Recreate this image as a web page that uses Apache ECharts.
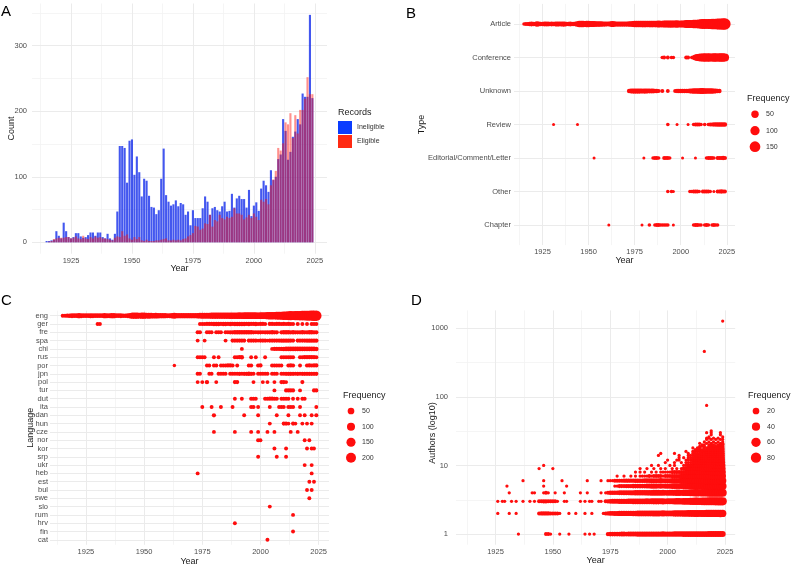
<!DOCTYPE html>
<html>
<head>
<meta charset="utf-8">
<script src="https://cdn.jsdelivr.net/npm/echarts@6.0.0/dist/echarts.min.js"></script>
<style>
html, body { margin: 0; padding: 0; background: #fff; }
#chart { width: 794px; height: 567px; }
</style>
</head>
<body>
<div id="chart"></div>
<script>
// ---- shared ticks ----
var firstYear = 1915;
var yearTicks = [1925, 1950, 1975, 2000, 2025];
var yearMinor = [1912.5, 1937.5, 1962.5, 1987.5, 2012.5];

// ---- A: records per year ----
var countTicks = [0, 100, 200, 300];
var countMinor = [50, 150, 250, 350];
var ineligible = [2, 2, 3, 4, 17, 10, 6, 30, 17, 8,
  6, 8, 14, 14, 9, 7, 8, 11, 15, 15,
  10, 15, 15, 8, 6, 13, 6, 4, 13, 47,
  147, 147, 144, 91, 155, 157, 103, 131, 107, 70,
  97, 94, 71, 54, 53, 43, 49, 97, 143, 72,
  62, 56, 58, 64, 55, 60, 58, 42, 47, 26,
  49, 37, 37, 37, 52, 70, 62, 42, 52, 54,
  49, 47, 55, 62, 47, 48, 74, 53, 67, 71,
  66, 66, 53, 80, 40, 56, 61, 48, 82, 94,
  87, 77, 110, 95, 100, 127, 134, 188, 170, 126,
  138, 161, 169, 188, 180, 227, 222, 222, 347, 220];
var eligible = [0, 1, 2, 5, 6, 7, 7, 7, 8, 8,
  6, 7, 9, 6, 5, 10, 6, 5, 8, 6,
  9, 7, 8, 6, 6, 5, 4, 3, 7, 9,
  8, 17, 10, 12, 6, 4, 8, 5, 8, 3,
  2, 4, 2, 2, 2, 3, 3, 4, 5, 6,
  3, 3, 4, 3, 4, 3, 5, 6, 9, 11,
  14, 25, 24, 19, 21, 29, 28, 42, 24, 34,
  32, 42, 37, 35, 39, 37, 39, 52, 44, 44,
  42, 35, 38, 42, 37, 44, 39, 34, 65, 62,
  66, 58, 87, 96, 109, 144, 140, 151, 183, 180,
  197, 159, 194, 166, 202, 202, 219, 252, 226, 226];

// ---- B: publication type ----
var typeNames = ['Article', 'Conference', 'Unknown', 'Review', 'Editorial/Comment/Letter', 'Other', 'Chapter'];
var articleFreq = [2, 3, 4, 6, 10, 8, 7, 15, 10, 8,
  8, 9, 11, 10, 8, 9, 8, 9, 12, 11,
  10, 12, 12, 8, 7, 10, 6, 5, 9, 18,
  30, 32, 30, 22, 30, 32, 24, 26, 24, 16,
  20, 18, 15, 12, 12, 10, 11, 18, 26, 15,
  13, 12, 12, 13, 12, 13, 12, 14, 18, 22,
  30, 28, 28, 28, 32, 36, 34, 32, 32, 35,
  34, 34, 36, 38, 36, 36, 42, 40, 44, 46,
  46, 44, 40, 48, 36, 44, 44, 40, 58, 62,
  62, 56, 78, 76, 82, 96, 100, 120, 124, 110,
  126, 128, 134, 146, 148, 160, 162, 170, 182, 176];
var conferencePts = [[1990, 2], [1991, 3], [1993, 3], [1995, 2], [1996, 2], [2003, 4], [2004, 3], [2006, 2], [2007, 6],
  [2008, 22], [2009, 40], [2010, 50], [2011, 58], [2012, 66], [2013, 72], [2014, 68], [2015, 72], [2016, 70],
  [2017, 68], [2018, 72], [2019, 74], [2020, 70], [2021, 72], [2022, 74], [2023, 76], [2024, 70]];
var unknownPts = [[1972, 6], [1973, 10], [1974, 12], [1975, 12], [1976, 12], [1977, 12], [1978, 12], [1979, 11],
  [1980, 12], [1981, 12], [1982, 10], [1983, 11], [1984, 10], [1985, 10], [1986, 8], [1987, 6], [1988, 4],
  [1990, 4], [1993, 3], [1997, 4], [1998, 5], [1999, 6], [2000, 6], [2001, 5], [2002, 6], [2003, 5], [2004, 8],
  [2005, 10], [2006, 12], [2007, 14], [2008, 16], [2009, 18], [2010, 20], [2011, 22], [2012, 22], [2013, 20],
  [2014, 18], [2015, 18], [2016, 16], [2017, 14], [2018, 12], [2019, 10], [2020, 8], [2021, 6]];
var reviewPts = [[1931, 1], [1944, 1], [1993, 2], [1998, 1], [2004, 1], [2007, 2], [2008, 3], [2009, 3], [2010, 3],
  [2011, 2], [2013, 2], [2015, 2], [2016, 3], [2017, 4], [2018, 5], [2019, 5], [2020, 7], [2021, 8], [2022, 8],
  [2023, 7], [2024, 6]];
var editorialPts = [[1953, 1], [1980, 1], [1985, 2], [1986, 3], [1987, 3], [1988, 2], [1991, 3], [1992, 4],
  [1993, 3], [1994, 2], [2001, 1], [2008, 1], [2014, 2], [2015, 3], [2016, 3], [2017, 3], [2018, 2], [2020, 3],
  [2021, 4], [2022, 4], [2023, 5], [2024, 4]];
var otherPts = [[1993, 2], [1995, 2], [1996, 1], [2005, 2], [2006, 2], [2007, 3], [2008, 3], [2009, 4], [2010, 2],
  [2012, 3], [2013, 4], [2014, 3], [2015, 3], [2016, 2], [2018, 1], [2020, 3], [2021, 4], [2022, 5], [2023, 4],
  [2024, 3]];
var chapterPts = [[1961, 1], [1979, 1], [1983, 2], [1986, 2], [1987, 3], [1988, 3], [1989, 2], [1990, 2], [1991, 2],
  [1992, 2], [1993, 2], [1996, 1], [2007, 2], [2008, 3], [2009, 3], [2010, 2], [2011, 2], [2013, 2], [2014, 3],
  [2015, 2], [2017, 2], [2018, 3], [2019, 2], [2020, 2]];

// ---- C: language ----
var langNames = ['eng', 'ger', 'fre', 'spa', 'chi', 'rus', 'por', 'jpn', 'pol', 'tur', 'dut', 'ita', 'dan', 'hun',
  'cze', 'nor', 'kor', 'srp', 'ukr', 'heb', 'est', 'bul', 'swe', 'slo', 'rum', 'hrv', 'fin', 'cat'];
var engFreq = [2, 3, 5, 7, 12, 9, 8, 18, 12, 9,
  9, 10, 13, 12, 9, 10, 9, 10, 14, 13,
  12, 14, 14, 9, 8, 12, 7, 6, 11, 22,
  36, 38, 36, 26, 36, 38, 28, 31, 28, 19,
  24, 22, 18, 14, 14, 12, 13, 22, 30, 18,
  15, 14, 14, 15, 14, 15, 14, 16, 22, 26,
  34, 32, 32, 32, 36, 40, 38, 36, 36, 40,
  40, 40, 42, 44, 42, 42, 48, 46, 52, 54,
  54, 52, 48, 56, 44, 52, 52, 48, 68, 74,
  74, 68, 92, 92, 98, 116, 122, 146, 152, 136,
  154, 158, 166, 180, 184, 198, 202, 214, 232, 228];
var gerPts = [[1930, 2], [1931, 2], [1974, 2], [1975, 3], [1976, 3], [1977, 4], [1978, 4], [1979, 4], [1980, 5],
  [1981, 5], [1982, 5], [1983, 4], [1984, 5], [1985, 5], [1986, 4], [1987, 5], [1988, 4], [1989, 5], [1990, 5],
  [1991, 6], [1992, 5], [1993, 5], [1994, 4], [1995, 5], [1996, 4], [1997, 4], [1998, 5], [1999, 3], [2000, 4],
  [2001, 4], [2002, 3], [2004, 4], [2005, 4], [2006, 3], [2007, 4], [2008, 4], [2009, 3], [2010, 4], [2011, 3],
  [2012, 4], [2013, 3], [2014, 3], [2016, 3], [2018, 2], [2020, 2], [2022, 3], [2023, 3], [2024, 3]];
var frePts = [[1973, 3], [1974, 3], [1977, 3], [1978, 3], [1979, 2], [1981, 3], [1982, 2], [1983, 3], [1985, 3],
  [1986, 3], [1987, 4], [1988, 4], [1989, 5], [1990, 5], [1991, 6], [1992, 6], [1993, 5], [1994, 5], [1995, 6],
  [1996, 5], [1997, 4], [1998, 3], [1999, 4], [2000, 4], [2001, 3], [2002, 4], [2003, 4], [2004, 4], [2005, 5],
  [2006, 4], [2007, 4], [2009, 4], [2010, 5], [2011, 5], [2012, 5], [2013, 4], [2014, 5], [2015, 4], [2016, 4],
  [2017, 4], [2018, 5], [2019, 4], [2020, 4], [2021, 5], [2022, 5], [2023, 4], [2024, 4]];
var spaPts = [[1973, 2], [1976, 2], [1985, 2], [1988, 3], [1989, 3], [1990, 3], [1991, 4], [1992, 4], [1993, 3],
  [1995, 3], [1996, 3], [1997, 3], [1998, 3], [1999, 2], [2000, 3], [2001, 3], [2002, 3], [2003, 2], [2004, 3],
  [2005, 4], [2006, 4], [2007, 4], [2008, 4], [2009, 5], [2010, 5], [2011, 5], [2012, 5], [2013, 4], [2014, 4],
  [2016, 4], [2017, 4], [2018, 4], [2019, 4], [2020, 5], [2021, 5], [2022, 5], [2023, 5], [2024, 5]];
var chiPts = [[1992, 2], [2005, 2], [2006, 3], [2007, 4], [2008, 4], [2009, 5], [2010, 6], [2011, 7], [2012, 8],
  [2013, 9], [2014, 10], [2015, 10], [2016, 11], [2017, 10], [2018, 8], [2019, 7], [2020, 7], [2021, 8],
  [2022, 8], [2023, 7], [2024, 6]];
var rusPts = [[1973, 2], [1974, 3], [1975, 3], [1976, 2], [1980, 2], [1982, 2], [1989, 3], [1990, 3], [1991, 4],
  [1992, 5], [1996, 2], [1998, 2], [2002, 2], [2009, 2], [2010, 3], [2011, 3], [2012, 3], [2013, 3], [2014, 3],
  [2017, 3], [2018, 3], [2019, 4], [2020, 4], [2021, 4], [2022, 4], [2023, 4], [2024, 3]];
var porPts = [[1963, 1], [1977, 2], [1978, 2], [1980, 2], [1981, 3], [1983, 2], [1984, 3], [1985, 3], [1986, 4],
  [1987, 4], [1988, 3], [1990, 2], [1995, 3], [1996, 3], [1999, 3], [2000, 4], [2005, 3], [2006, 3], [2007, 3],
  [2008, 2], [2009, 2], [2012, 3], [2013, 4], [2014, 3], [2017, 2], [2020, 3], [2021, 4], [2022, 3], [2023, 4],
  [2024, 4]];
var jpnPts = [[1973, 3], [1974, 2], [1978, 2], [1979, 2], [1982, 3], [1983, 3], [1984, 3], [1985, 2], [1987, 3],
  [1988, 3], [1989, 3], [1990, 3], [1991, 4], [1992, 3], [1993, 4], [1994, 4], [1995, 5], [1996, 4], [1997, 3],
  [1999, 3], [2000, 3], [2001, 3], [2002, 3], [2003, 3], [2005, 3], [2006, 3], [2007, 3], [2009, 3], [2010, 3],
  [2011, 4], [2012, 4], [2013, 4], [2014, 4], [2015, 3], [2016, 4], [2017, 3], [2018, 4], [2019, 4], [2020, 4],
  [2021, 4], [2022, 4], [2023, 4], [2024, 4]];
var polPts = [[1973, 2], [1975, 2], [1977, 5], [1981, 2], [1989, 3], [1990, 3], [1997, 2], [2001, 2], [2003, 2],
  [2006, 2], [2009, 3], [2010, 3], [2011, 2], [2018, 3]];
var turPts = [[2006, 2], [2011, 3], [2012, 4], [2013, 4], [2014, 3], [2017, 2], [2023, 3], [2024, 3]];
var dutPts = [[1989, 2], [1992, 2], [1996, 3], [1997, 3], [1998, 2], [2002, 3], [2003, 3], [2004, 4], [2005, 4],
  [2006, 3], [2007, 3], [2009, 2], [2010, 3], [2011, 3], [2012, 2], [2014, 2], [2016, 2], [2018, 2], [2019, 2]];
var itaPts = [[1975, 2], [1979, 2], [1983, 2], [1988, 2], [1996, 3], [1997, 3], [1999, 2], [2004, 2], [2008, 2],
  [2009, 3], [2010, 2], [2012, 3], [2013, 3], [2014, 3], [2017, 2], [2024, 2]];
var danPts = [[1980, 4], [1993, 2], [1999, 2], [2007, 2], [2012, 2], [2017, 2], [2019, 2], [2022, 2], [2024, 3]];
var hunPts = [[2004, 2], [2010, 3], [2011, 3], [2012, 2], [2014, 3], [2015, 2], [2018, 2], [2020, 2], [2022, 2]];
var czePts = [[1980, 2], [1989, 2], [1996, 2], [1999, 2], [2003, 2], [2006, 2], [2013, 2], [2016, 2]];
var norPts = [[1999, 3], [2000, 2], [2019, 2], [2021, 2]];
var korPts = [[2006, 2], [2011, 2], [2020, 2], [2022, 2], [2023, 2]];
var srpPts = [[1999, 2], [2007, 2], [2011, 2]];
var ukrPts = [[2019, 2], [2022, 2]];
var hebPts = [[1973, 2], [2022, 2]];
var estPts = [[2021, 2], [2023, 2]];
var bulPts = [[2020, 2], [2022, 2]];
var swePts = [[2021, 2]];
var sloPts = [[2004, 2]];
var rumPts = [[2014, 2]];
var hrvPts = [[1989, 2]];
var finPts = [[2014, 2]];
var catPts = [[2003, 2]];

// ---- D: authors per record (year, authors, frequency) ----
var authorTicks = [1, 10, 100, 1000];
var authorMinor = [3.162, 31.62, 316.2];
var authors1Early = [[1935, 1], [1947, 2], [1948, 2], [1949, 1], [1953, 1], [1957, 1], [1964, 1], [1966, 1], [1968, 1]];
var authors1From = 1974;
var authors1Freq = [3, 4, 4, 5, 5, 5, 6, 6, 5, 6, 6, 6, 6, 7, 7, 7, 7, 8, 7, 8, 8, 8, 8, 7, 9, 7, 8, 8, 8, 9,
  9, 9, 9, 10, 10, 10, 11, 11, 12, 12, 11, 12, 12, 12, 13, 13, 13, 13, 14, 14, 13];
var authors2Early = [[1926, 1], [1931, 1], [1934, 1], [1944, 2], [1945, 3], [1946, 3], [1947, 3], [1948, 3],
  [1949, 2], [1950, 2], [1951, 2], [1952, 2], [1953, 1], [1957, 1], [1960, 1], [1964, 1], [1967, 1]];
var authors2From = 1972;
var authors2Freq = [1, 2, 3, 5, 5, 6, 6, 7, 8, 8, 7, 8, 8, 9, 9, 10, 10, 10, 10, 12, 11, 12, 13, 13, 13, 12, 14,
  11, 12, 12, 12, 15, 16, 16, 15, 18, 18, 19, 21, 22, 24, 24, 22, 24, 24, 25, 26, 26, 27, 27, 28, 30, 28];
var authors3Early = [[1926, 1], [1928, 1], [1929, 1], [1932, 1], [1934, 1], [1937, 1], [1940, 1], [1942, 1],
  [1944, 2], [1945, 2], [1946, 3], [1947, 3], [1948, 2], [1949, 2], [1950, 2], [1951, 2], [1952, 1], [1955, 1],
  [1956, 1], [1962, 1], [1964, 1], [1966, 1], [1967, 1], [1970, 1], [1971, 1]];
var authors3From = 1973;
var authors3Freq = [2, 3, 5, 6, 6, 6, 7, 8, 8, 8, 9, 9, 10, 10, 11, 11, 11, 11, 13, 12, 13, 14, 14, 14, 13, 15,
  12, 13, 13, 13, 17, 18, 18, 17, 20, 21, 22, 25, 27, 30, 30, 28, 32, 33, 34, 36, 37, 38, 39, 40, 42, 40];
var authors4Early = [[1931, 1], [1941, 1], [1942, 1], [1946, 1], [1947, 2], [1948, 1], [1951, 1], [1955, 1],
  [1962, 1], [1965, 1], [1971, 1]];
var authors4From = 1973;
var authors4Freq = [1, 2, 3, 4, 4, 4, 5, 5, 6, 6, 6, 7, 7, 8, 8, 9, 9, 9, 10, 10, 11, 12, 12, 12, 11, 13, 10,
  11, 12, 12, 15, 16, 16, 15, 18, 19, 20, 23, 25, 28, 28, 26, 30, 31, 32, 34, 35, 36, 37, 38, 40, 38];
var authors5Early = [[1930, 1], [1946, 1], [1956, 1]];
var authors5From = 1977;
var authors5Freq = [1, 1, 2, 2, 2, 3, 3, 3, 4, 4, 4, 5, 5, 5, 6, 6, 7, 7, 7, 6, 8, 6, 7, 8, 8, 10, 11, 11, 10,
  13, 14, 15, 18, 20, 22, 22, 21, 24, 25, 26, 28, 29, 30, 31, 32, 34, 35, 33];
var authors6Early = [[1937, 1], [1946, 1], [1954, 1], [1965, 1], [1971, 1]];
var authors6From = 1974;
var authors6Freq = [1, 1, 1, 2, 2, 2, 2, 3, 3, 3, 3, 3, 4, 4, 4, 4, 5, 5, 5, 6, 6, 6, 5, 7, 5, 6, 6, 6, 8, 9,
  9, 8, 11, 12, 13, 15, 17, 19, 19, 18, 21, 22, 23, 24, 25, 26, 27, 28, 29, 30, 28];
var authors7Early = [[1978, 1], [1981, 1], [1984, 1], [1986, 1]];
var authors7From = 1988;
var authors7Freq = [1, 1, 1, 1, 2, 1, 2, 2, 2, 2, 1, 2, 2, 2, 3, 3, 3, 3, 4, 5, 6, 7, 8, 10, 11, 12, 12, 13, 14,
  15, 16, 17, 18, 19, 20, 20, 19];
var authors8Early = [[1986, 1], [1988, 1], [1990, 1], [1993, 1], [1995, 1]];
var authors8From = 1997;
var authors8Freq = [1, 1, 1, 1, 1, 2, 2, 2, 2, 3, 3, 4, 5, 6, 7, 8, 9, 10, 11, 12, 13, 13, 14, 15, 16, 16, 17, 16];
var authors9Early = [[1944, 1], [1950, 1], [1988, 1], [1991, 1], [1994, 1], [1997, 1], [1999, 1], [2002, 1], [2004, 1]];
var authors9From = 2006;
var authors9Freq = [1, 2, 2, 2, 3, 4, 5, 5, 6, 7, 8, 9, 10, 10, 11, 12, 13, 12, 12];
var authors10Early = [[1946, 1], [1993, 1], [1996, 1], [2001, 1], [2003, 1]];
var authors10From = 2007;
var authors10Freq = [1, 1, 2, 2, 3, 3, 4, 4, 5, 6, 7, 7, 8, 9, 9, 10, 10, 9];
var authors11Early = [[1999, 1], [2003, 1], [2006, 1]];
var authors11From = 2008;
var authors11Freq = [1, 1, 1, 2, 2, 2, 3, 3, 4, 4, 5, 5, 6, 6, 7, 7, 6];
var authors12Early = [[2000, 1], [2004, 1], [2005, 1]];
var authors12From = 2008;
var authors12Freq = [1, 1, 1, 2, 2, 2, 3, 3, 3, 4, 4, 5, 5, 6, 6, 6, 5];
var authors13Early = [[2005, 1], [2007, 1]];
var authors13From = 2009;
var authors13Freq = [1, 1, 1, 2, 2, 2, 3, 3, 3, 3, 4, 4, 4, 5, 5, 4];
var authors14Early = [[1996, 1], [2005, 1]];
var authors14From = 2009;
var authors14Freq = [1, 1, 1, 1, 2, 2, 2, 2, 3, 3, 3, 3, 4, 4, 4, 3];
var authors15Early = [[1997, 1], [2003, 1], [2009, 1]];
var authors15From = 2011;
var authors15Freq = [1, 1, 1, 1, 2, 2, 2, 2, 2, 3, 3, 3, 3, 3];
var authors16Early = [[2008, 1]];
var authors16From = 2011;
var authors16Freq = [1, 1, 1, 1, 1, 2, 2, 2, 2, 2, 2, 2, 3, 2];
var authors17Early = [];
var authors17From = 2012;
var authors17Freq = [1, 1, 1, 1, 1, 1, 2, 2, 2, 2, 2, 2, 2];
var authorsSparse = [
  [2011, 18, 1], [2013, 18, 1], [2014, 18, 1], [2016, 18, 1], [2017, 18, 1], [2018, 18, 1], [2019, 18, 2],
  [2020, 18, 1], [2021, 18, 2], [2022, 18, 2], [2023, 18, 2], [2024, 18, 2],
  [2014, 19, 1], [2015, 19, 1], [2016, 19, 1], [2018, 19, 1], [2019, 19, 1], [2020, 19, 1], [2021, 19, 1],
  [2022, 19, 1], [2023, 19, 2], [2024, 19, 1],
  [2015, 20, 1], [2016, 20, 1], [2018, 20, 1], [2019, 20, 1], [2020, 20, 1], [2022, 20, 1], [2023, 20, 1], [2024, 20, 2],
  [2014, 21, 1], [2017, 21, 1], [2019, 21, 1], [2021, 21, 1], [2023, 21, 1], [2024, 21, 1],
  [2016, 22, 1], [2018, 22, 1], [2020, 22, 1], [2022, 22, 1], [2024, 22, 1],
  [2017, 24, 1], [2019, 24, 1], [2021, 24, 1], [2023, 24, 1], [2024, 24, 1],
  [2017, 25, 1], [2018, 25, 1], [2020, 25, 1], [2022, 25, 1],
  [2018, 26, 1], [2024, 26, 1], [2019, 28, 1], [2023, 28, 1],
  [2017, 30, 1], [2019, 30, 1], [2023, 30, 1], [2019, 32, 1],
  [2017, 75, 1], [2016, 460, 1], [2024, 1270, 1]];

var legendFreqB = [50, 100, 150];
var legendFreqC = [50, 100, 150, 200];
var legendFreqD = [20, 40, 60, 80];

// ---- build series data ----
var barIneligible = ineligible.map(function (v, i) { return [firstYear + i, v]; });
var barEligible = eligible.map(function (v, i) { return [firstYear + i, v]; });

var typeData = articleFreq.map(function (f, i) { return [firstYear + i, 0, f]; });
[conferencePts, unknownPts, reviewPts, editorialPts, otherPts, chapterPts].forEach(function (pts, k) {
  pts.forEach(function (p) { typeData.push([p[0], k + 1, p[1]]); });
});

var langData = engFreq.map(function (f, i) { return [firstYear + i, 0, f]; });
[gerPts, frePts, spaPts, chiPts, rusPts, porPts, jpnPts, polPts, turPts, dutPts, itaPts, danPts, hunPts, czePts,
  norPts, korPts, srpPts, ukrPts, hebPts, estPts, bulPts, swePts, sloPts, rumPts, hrvPts, finPts, catPts
].forEach(function (pts, k) {
  pts.forEach(function (p) { langData.push([p[0], k + 1, p[1]]); });
});

var authorRows = [
  [1, authors1Early, authors1From, authors1Freq], [2, authors2Early, authors2From, authors2Freq],
  [3, authors3Early, authors3From, authors3Freq], [4, authors4Early, authors4From, authors4Freq],
  [5, authors5Early, authors5From, authors5Freq], [6, authors6Early, authors6From, authors6Freq],
  [7, authors7Early, authors7From, authors7Freq], [8, authors8Early, authors8From, authors8Freq],
  [9, authors9Early, authors9From, authors9Freq], [10, authors10Early, authors10From, authors10Freq],
  [11, authors11Early, authors11From, authors11Freq], [12, authors12Early, authors12From, authors12Freq],
  [13, authors13Early, authors13From, authors13Freq], [14, authors14Early, authors14From, authors14Freq],
  [15, authors15Early, authors15From, authors15Freq], [16, authors16Early, authors16From, authors16Freq],
  [17, authors17Early, authors17From, authors17Freq]];
var authorData = [];
authorRows.forEach(function (row) {
  row[1].forEach(function (p) { authorData.push([p[0], row[0], p[1]]); });
  row[3].forEach(function (f, i) { authorData.push([row[2] + i, row[0], f]); });
});
authorsSparse.forEach(function (p) { authorData.push(p); });

// ---- styling helpers ----
var FONT = '"Liberation Sans", Arial, Helvetica, sans-serif';
var RED = '#ff0d0d';

function sizeB(v) { return 3 + 8.5 * Math.sqrt(Math.max(v - 1, 0) / 182); }
function sizeC(v) { return 3.45 + 7.03 * Math.sqrt(Math.max(v - 1, 0) / 231); }
function sizeD(v) { return 3.24 + 7.7 * Math.sqrt(Math.max(v - 1, 0) / 94); }

function tickLabel(extra) {
  var o = {color: '#4d4d4d', fontSize: 7.5, fontFamily: FONT};
  for (var k in extra) o[k] = extra[k];
  return o;
}
var nameStyle = {color: '#1a1a1a', fontSize: 9, fontFamily: FONT};

function yearAxis(idx, min, max, gap) {
  return {
    type: 'value', gridIndex: idx, min: min, max: max,
    name: 'Year', nameLocation: 'middle', nameGap: gap, nameTextStyle: nameStyle, nameMoveOverlap: false,
    axisLine: {show: false}, axisTick: {show: false}, splitLine: {show: false},
    axisLabel: tickLabel({customValues: yearTicks, margin: 3, formatter: function (v) { return String(v); }})
  };
}

function gridLines(idx, xs, xsMinor, ys, ysMinor) {
  var major = {color: '#ebebeb', width: 1, type: 'solid'};
  var minor = {color: '#f3f3f3', width: 0.8, type: 'solid'};
  var lines = [];
  xsMinor.forEach(function (v) { lines.push({xAxis: v, lineStyle: minor}); });
  ysMinor.forEach(function (v) { lines.push({yAxis: v, lineStyle: minor}); });
  xs.forEach(function (v) { lines.push({xAxis: v, lineStyle: major}); });
  ys.forEach(function (v) { lines.push({yAxis: v, lineStyle: major}); });
  return {
    type: 'scatter', xAxisIndex: idx, yAxisIndex: idx, data: [], silent: true,
    markLine: {
      silent: true, symbol: ['none', 'none'], z: 1, animation: false,
      label: {show: false}, emphasis: {disabled: true}, data: lines
    }
  };
}

function indexList(n) {
  var out = [];
  for (var i = 0; i < n; i++) out.push(i);
  return out;
}

function sizeLegend(title, x, y0, values, sizeFn, cy) {
  var els = [{
    type: 'text', x: x, y: y0,
    style: {text: title, fill: '#1a1a1a', fontSize: 9, fontFamily: FONT, align: 'left', verticalAlign: 'middle'}
  }];
  values.forEach(function (v, i) {
    els.push({type: 'circle', shape: {cx: x + 8, cy: cy[i], r: sizeFn(v) / 2}, style: {fill: RED}});
    els.push({
      type: 'text', x: x + 19, y: cy[i],
      style: {text: String(v), fill: '#333', fontSize: 7, fontFamily: FONT, align: 'left', verticalAlign: 'middle'}
    });
  });
  return els;
}

function letter(t, x, y) {
  return {
    type: 'text', x: x, y: y,
    style: {text: t, fill: '#000', fontSize: 15, fontFamily: FONT, align: 'left', verticalAlign: 'middle'}
  };
}

var chart = echarts.init(document.getElementById('chart'), null, {renderer: 'canvas'});

var option = {
  animation: false,
  backgroundColor: '#ffffff',
  textStyle: {fontFamily: FONT},
  grid: [
    {left: 32, top: 3.5, width: 295, height: 250.2},
    {left: 514, top: 3.9, width: 221, height: 241.2},
    {left: 50, top: 310.7, width: 279, height: 234.3},
    {left: 456, top: 310.4, width: 279.2, height: 234.3}
  ],
  xAxis: [
    yearAxis(0, 1909, 2030, 10.5),
    yearAxis(1, 1909.55, 2029.45, 11.4),
    yearAxis(2, 1909.55, 2029.45, 12.2),
    yearAxis(3, 1907.8, 2029.45, 11.8)
  ],
  yAxis: [
    {
      type: 'value', gridIndex: 0, min: -17.35, max: 364.35,
      name: 'Count', nameLocation: 'middle', nameGap: 15.5, nameTextStyle: nameStyle, nameMoveOverlap: false,
      axisLine: {show: false}, axisTick: {show: false}, splitLine: {show: false},
      axisLabel: tickLabel({customValues: countTicks, margin: 5})
    },
    {
      type: 'value', gridIndex: 1, inverse: true, min: -0.6, max: 6.6,
      name: 'Type', nameLocation: 'middle', nameGap: 87.8, nameTextStyle: nameStyle, nameMoveOverlap: false,
      axisLine: {show: false}, axisTick: {show: false}, splitLine: {show: false},
      axisLabel: tickLabel({
        customValues: indexList(typeNames.length), margin: 3,
        formatter: function (v) { return typeNames[Math.round(v)]; }
      })
    },
    {
      type: 'value', gridIndex: 2, inverse: true, min: -0.6, max: 27.6,
      name: 'Language', nameLocation: 'middle', nameGap: 14.8, nameTextStyle: nameStyle, nameMoveOverlap: false,
      axisLine: {show: false}, axisTick: {show: false}, splitLine: {show: false},
      axisLabel: tickLabel({
        customValues: indexList(langNames.length), margin: 2,
        formatter: function (v) { return langNames[Math.round(v)]; }
      })
    },
    {
      type: 'log', logBase: 10, gridIndex: 3, min: 0.7, max: 1820,
      axisLine: {show: false}, axisTick: {show: false}, splitLine: {show: false},
      axisLabel: tickLabel({
        customValues: authorTicks, margin: 8,
        formatter: function (v) { return String(Math.round(v)); }
      })
    }
  ],
  legend: {
    left: 338, top: 121, orient: 'vertical', padding: 0, itemGap: 1,
    itemWidth: 14, itemHeight: 13, icon: 'rect', selectedMode: false,
    textStyle: {fontSize: 7, color: '#333', fontFamily: FONT},
    data: [
      {name: 'Ineligible', itemStyle: {color: '#0a3cff', opacity: 1, borderWidth: 0}},
      {name: 'Eligible', itemStyle: {color: '#ff2a12', opacity: 1, borderWidth: 0}}
    ]
  },
  graphic: [
    letter('A', 1, 12), letter('B', 406, 13.5), letter('C', 1, 301), letter('D', 411, 301),
    {
      type: 'text', x: 338, y: 113,
      style: {text: 'Records', fill: '#1a1a1a', fontSize: 9, fontFamily: FONT, align: 'left', verticalAlign: 'middle'}
    },
    {
      type: 'text', x: 433, y: 433, rotation: Math.PI / 2,
      style: {text: 'Authors (log10)', fill: '#1a1a1a', fontSize: 9, fontFamily: FONT, align: 'center', verticalAlign: 'middle'}
    }
  ].concat(
    sizeLegend('Frequency', 747, 99, legendFreqB, sizeB, [114.3, 130.7, 146.7]),
    sizeLegend('Frequency', 343, 395.7, legendFreqC, sizeC, [411, 426.7, 442.3, 457.7]),
    sizeLegend('Frequency', 748, 395.7, legendFreqD, sizeD, [411, 426.7, 442.3, 457.7])
  ),
  series: [
    gridLines(0, yearTicks, yearMinor, countTicks, countMinor),
    {
      name: 'Ineligible', type: 'bar', xAxisIndex: 0, yAxisIndex: 0, barWidth: 2.1, barGap: '-100%',
      itemStyle: {color: 'rgba(20,45,235,0.8)'}, data: barIneligible
    },
    {
      name: 'Eligible', type: 'bar', xAxisIndex: 0, yAxisIndex: 0, barWidth: 2.1, barGap: '-100%',
      itemStyle: {color: 'rgba(255,20,10,0.47)'}, data: barEligible
    },
    gridLines(1, yearTicks, yearMinor, indexList(typeNames.length), []),
    {
      type: 'scatter', xAxisIndex: 1, yAxisIndex: 1, data: typeData,
      symbolSize: function (val) { return sizeB(val[2]); },
      itemStyle: {color: RED, opacity: 1}
    },
    gridLines(2, yearTicks, yearMinor, indexList(langNames.length), []),
    {
      type: 'scatter', xAxisIndex: 2, yAxisIndex: 2, data: langData,
      symbolSize: function (val) { return sizeC(val[2]); },
      itemStyle: {color: RED, opacity: 1}
    },
    gridLines(3, yearTicks, yearMinor, authorTicks, authorMinor),
    {
      type: 'scatter', xAxisIndex: 3, yAxisIndex: 3, data: authorData,
      symbolSize: function (val) { return sizeD(val[2]); },
      itemStyle: {color: RED, opacity: 1}
    }
  ]
};

chart.setOption(option);
</script>
</body>
</html>
